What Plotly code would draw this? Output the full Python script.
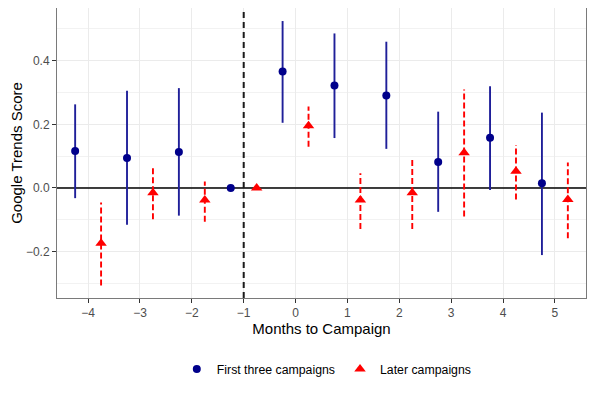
import plotly.graph_objects as go

# months relative to campaign
first_x = [-4.25, -3.25, -2.25, -1.25, -0.25, 0.75, 1.75, 2.75, 3.75, 4.75]
first_est = [0.116, 0.094, 0.113, 0.0, 0.366, 0.322, 0.291, 0.082, 0.158, 0.015]
first_lo = [-0.032, -0.116, -0.087, 0.0, 0.205, 0.157, 0.123, -0.075, -0.006, -0.211]
first_hi = [0.263, 0.306, 0.314, 0.0, 0.525, 0.486, 0.460, 0.240, 0.320, 0.237]

later_x = [-3.75, -2.75, -1.75, -0.75, 0.25, 1.25, 2.25, 3.25, 4.25, 5.25]
later_est = [-0.174, -0.015, -0.038, 0.0, 0.196, -0.038, -0.015, 0.111, 0.053, -0.036]
later_lo = [-0.307, -0.098, -0.106, 0.0, 0.130, -0.129, -0.129, -0.090, -0.036, -0.158]
later_hi = [-0.046, 0.067, 0.020, 0.0, 0.256, 0.046, 0.088, 0.310, 0.135, 0.080]

x_ticks = [-4, -3, -2, -1, 0, 1, 2, 3, 4, 5]
x_labels = ["\u22124", "\u22123", "\u22122", "\u22121", "0", "1", "2", "3", "4", "5"]
y_ticks = [-0.2, 0.0, 0.2, 0.4]
y_labels = ["\u22120.2", "0.0", "0.2", "0.4"]

campaign_start = -1  # dashed marker line
x_range = [-4.6, 5.6]
y_range = [-0.346, 0.566]

BLUE = "#00008B"
RED = "#FF0000"
FONT = "Liberation Sans, Arial, sans-serif"


def segments(xs, lo, hi):
    sx, sy = [], []
    for x, a, b in zip(xs, lo, hi):
        sx += [x, x, None]
        sy += [a, b, None]
    return sx, sy


fig = go.Figure()

# reference lines as traces so they sit above the grid but under the data
fig.add_trace(go.Scatter(x=x_range, y=[0, 0], mode="lines", line=dict(color="black", width=1.5),
                         showlegend=False, hoverinfo="skip"))
fig.add_trace(go.Scatter(x=[campaign_start, campaign_start], y=y_range, mode="lines",
                         line=dict(color="#1A1A1A", width=2, dash="6px,4px"),
                         showlegend=False, hoverinfo="skip"))

# confidence intervals
bx, by = segments(first_x, first_lo, first_hi)
fig.add_trace(go.Scatter(x=bx, y=by, mode="lines", line=dict(color="#1F1F99", width=1.9),
                         showlegend=False, hoverinfo="skip"))
rx, ry = segments(later_x, later_lo, later_hi)
fig.add_trace(go.Scatter(x=rx, y=ry, mode="lines", line=dict(color=RED, width=1.9, dash="6px,3px"),
                         showlegend=False, hoverinfo="skip"))

# point estimates
fig.add_trace(go.Scatter(x=first_x, y=first_est, mode="markers", name="First three campaigns",
                         marker=dict(color=BLUE, size=8, symbol="circle")))
fig.add_trace(go.Scatter(x=later_x, y=later_est, mode="markers", name="Later campaigns",
                         marker=dict(color=RED, size=10, symbol="triangle-up")))

# the page body has an 8px margin, so the figure is sized/offset to compensate
fig.update_layout(
    width=579, height=381,
    margin=dict(l=49, r=1, t=0, b=91),
    paper_bgcolor="white", plot_bgcolor="white",
    font=dict(family=FONT, size=12, color="#4D4D4D"),
    showlegend=True,
    legend=dict(orientation="h", x=0.51, xanchor="center", y=-0.245, yanchor="middle",
                font=dict(size=12.3, color="black"), itemwidth=30),
    xaxis=dict(
        range=x_range, tickvals=x_ticks, ticktext=x_labels, automargin=False,
        showgrid=True, gridcolor="#EBEBEB", gridwidth=1.2, zeroline=False,
        ticks="outside", ticklen=4, tickcolor="#333333",
        showline=True, mirror=True, linecolor="#7A7A7A", linewidth=1,
        title=dict(text="Months to Campaign", font=dict(size=15, color="black"), standoff=2),
    ),
    yaxis=dict(
        range=y_range, tickvals=y_ticks, ticktext=y_labels, automargin=False,
        showgrid=True, gridcolor="#EBEBEB", gridwidth=1.2, zeroline=False,
        minor=dict(tickvals=[-0.3, -0.1, 0.1, 0.3, 0.5], showgrid=True, gridcolor="#F2F2F2", gridwidth=0.8),
        ticks="outside", ticklen=4, tickcolor="#333333",
        showline=True, mirror=True, linecolor="#7A7A7A", linewidth=1,
        title=dict(text="Google Trends Score", font=dict(size=15, color="black"), standoff=4),
    ),
)

fig.write_html("out.html")
